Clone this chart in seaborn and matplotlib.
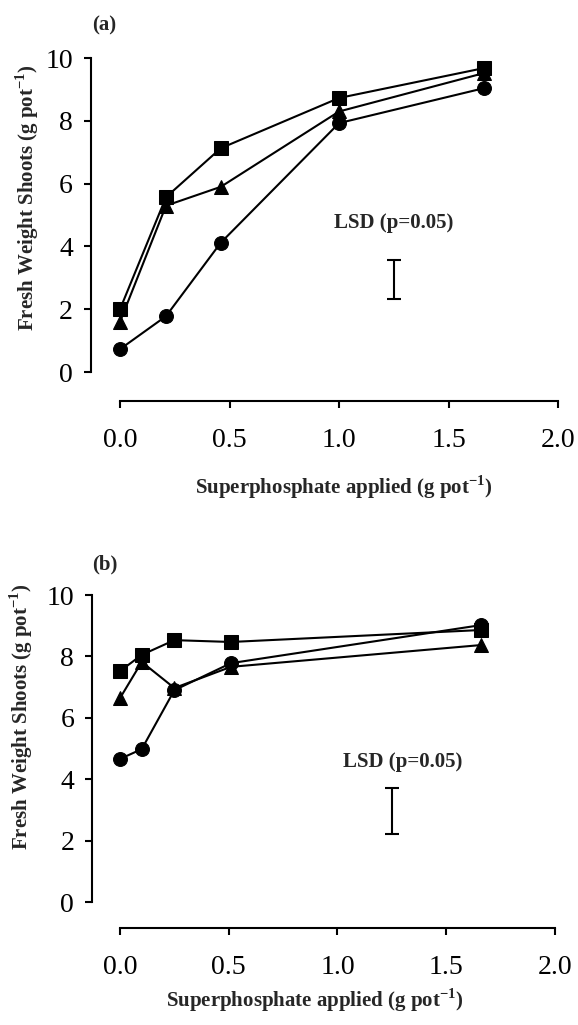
import matplotlib
matplotlib.use("Agg")
import matplotlib.pyplot as plt
import pandas as pd
import seaborn as sns

# Panel (a) values
x_a = [0.0, 0.21, 0.46, 1.0, 1.66]
square_a = [2.0, 5.57, 7.13, 8.73, 9.68]
triangle_a = [1.6, 5.3, 5.9, 8.3, 9.52]
circle_a = [0.73, 1.78, 4.12, 7.93, 9.04]
lsd_a = [2.32, 3.57]

# Panel (b) values
x_b = [0.0, 0.1, 0.25, 0.51, 1.66]
square_b = [7.52, 8.05, 8.53, 8.47, 8.86]
triangle_b = [6.64, 7.82, 6.97, 7.66, 8.37]
circle_b = [4.66, 4.98, 6.9, 7.78, 9.02]
lsd_b = [2.21, 3.71]

lsd_x = 1.25
y_ticks = [0, 2, 4, 6, 8, 10]
x_ticks = [0.0, 0.5, 1.0, 1.5, 2.0]

sns.set_style("ticks")
plt.rcParams["font.family"] = ["Liberation Serif", "DejaVu Serif"]
plt.rcParams["mathtext.fontset"] = "custom"
plt.rcParams["mathtext.rm"] = "Liberation Serif"
plt.rcParams["mathtext.bf"] = "Liberation Serif:bold"

xlab = r"Superphosphate applied (g pot$^{\mathbf{-1}}$)"
ylab = r"Fresh Weight Shoots (g pot$^{\mathbf{-1}}$)"

fig = plt.figure(figsize=(5.78, 10.25), dpi=100)
ax_a = fig.add_axes([0.2076, 0.637, 0.758, 0.3063])
ax_b = fig.add_axes([0.2076, 0.12, 0.7526, 0.2995])


def draw_panel(ax, x, circ, tri, sq, lsd, lsd_text_xy, off):
    df = pd.DataFrame({"x": x * 3,
                       "y": tri + circ + sq,
                       "series": ["tri"] * len(x) + ["circ"] * len(x) + ["sq"] * len(x)})
    marks = {"tri": "^", "circ": "o", "sq": "s"}
    for name in ["tri", "circ", "sq"]:
        sub = df[df["series"] == name]
        sns.lineplot(data=sub, x="x", y="y", ax=ax, color="black",
                     marker=marks[name], markersize=10, markeredgecolor="black",
                     linewidth=1.5, clip_on=False, zorder=3)
    mid = (lsd[0] + lsd[1]) / 2
    half = (lsd[1] - lsd[0]) / 2
    ax.errorbar([lsd_x], [mid], yerr=[half], color="black",
                elinewidth=1.5, capsize=5, capthick=1.5)
    ax.text(lsd_text_xy[0], lsd_text_xy[1], "LSD (p=0.05)", ha="center",
            va="center", fontsize=15, fontweight="bold")
    ax.set_xlim(0, 2)
    ax.set_ylim(0, 10)
    ax.set_xticks(x_ticks)
    ax.set_yticks(y_ticks)
    ax.set_xticklabels([f"{t:.1f}" for t in x_ticks])
    ax.tick_params(axis="both", direction="out", length=5, width=1.5,
                   labelsize=20, colors="black")
    ax.tick_params(axis="x", pad=14)
    ax.tick_params(axis="y", pad=8)
    sns.despine(ax=ax, offset=off)
    for s in ["left", "bottom"]:
        ax.spines[s].set_linewidth(1.5)
        ax.spines[s].set_color("black")


draw_panel(ax_a, x_a, circle_a, triangle_a, square_a, lsd_a, (1.25, 4.75),
           dict(left=21, bottom=21))
draw_panel(ax_b, x_b, circle_b, triangle_b, square_b, lsd_b, (1.30, 4.56),
           dict(left=20, bottom=19))

# axis labels
ax_a.set_xlabel(xlab, fontsize=15, fontweight="bold", va="center")
ax_a.xaxis.set_label_coords(0.51, -0.366)
ax_a.set_ylabel(ylab, fontsize=15, fontweight="bold", va="center")
ax_a.yaxis.set_label_coords(-0.212, 0.557)

ax_b.set_xlabel(xlab, fontsize=15, fontweight="bold", va="center")
ax_b.xaxis.set_label_coords(0.448, -0.319)
ax_b.set_ylabel(ylab, fontsize=15, fontweight="bold", va="center")
ax_b.yaxis.set_label_coords(-0.226, 0.603)

# panel tags
ax_a.text(-0.037, 1.105, "(a)", transform=ax_a.transAxes, ha="center",
          va="center", fontsize=15, fontweight="bold")
ax_b.text(-0.034, 1.098, "(b)", transform=ax_b.transAxes, ha="center",
          va="center", fontsize=15, fontweight="bold")

fig.savefig("out.png", dpi=100)
plt.close(fig)
